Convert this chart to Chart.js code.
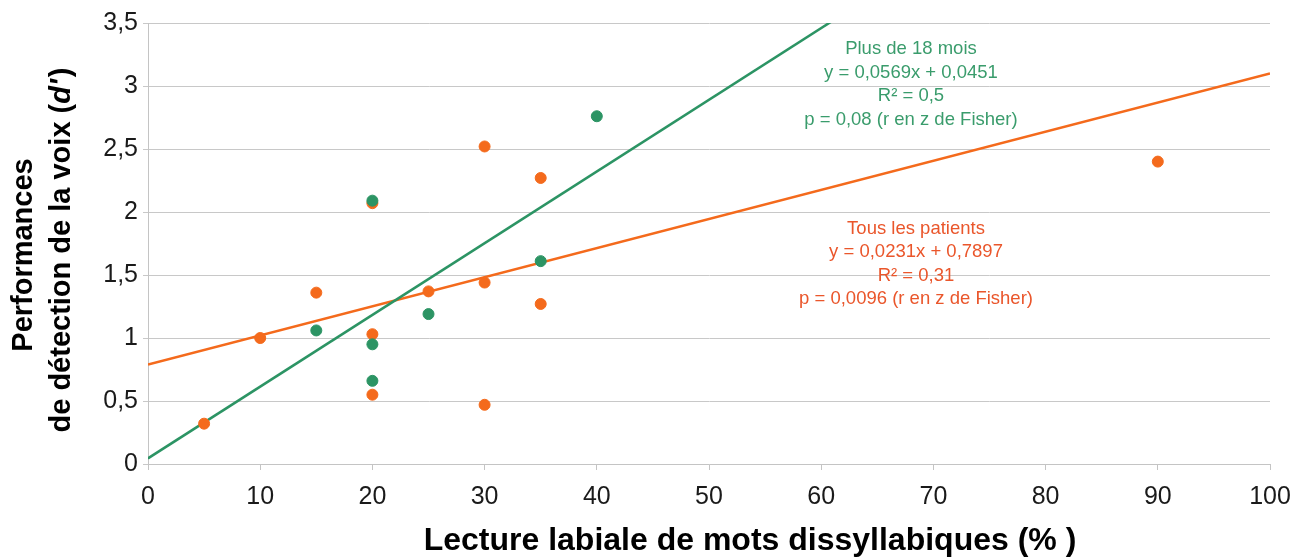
<!DOCTYPE html>
<html>
<head>
<meta charset="utf-8">
<script src="https://cdn.jsdelivr.net/npm/chart.js@4/dist/chart.umd.min.js"></script>
<style>
  html, body { margin: 0; padding: 0; background: #fff; }
  #wrap { width: 1315px; height: 560px; position: relative; }
</style>
</head>
<body>
<div id="wrap"><canvas id="chart"></canvas></div>
<script>
// Tous les patients
const allX = [5, 10, 15, 20, 20, 20, 25, 30, 30, 30, 35, 35, 90];
const allY = [0.32, 1.0, 1.36, 2.07, 1.03, 0.55, 1.37, 2.52, 1.44, 0.47, 2.27, 1.27, 2.4];
// Plus de 18 mois
const olderX = [15, 20, 20, 20, 25, 35, 40];
const olderY = [1.06, 2.09, 0.95, 0.66, 1.19, 1.61, 2.76];
// trend line end points
const allTrendX = [0, 100];
const allTrendY = [0.79, 3.1];
const olderTrendX = [0, 61.5];
const olderTrendY = [0.045, 3.545];

const allNotes = ["Tous les patients", "y = 0,0231x + 0,7897", "R\u00b2 = 0,31", "p = 0,0096 (r en z de Fisher)"];
const olderNotes = ["Plus de 18 mois", "y = 0,0569x + 0,0451", "R\u00b2 = 0,5", "p = 0,08 (r en z de Fisher)"];

const orange = "#f46a1c";
const green = "#2c9464";
const font = "'Liberation Sans', Arial, sans-serif";

const toPoints = (xs, ys) => xs.map((x, i) => ({ x, y: ys[i] }));
const comma = (v) => String(v).replace(".", ",");

const textPlugin = {
  id: "labels",
  afterDraw(chart) {
    const { ctx, scales } = chart;
    const x = scales.x;
    ctx.save();
    ctx.textAlign = "center";
    ctx.textBaseline = "middle";

    ctx.font = "18.5px " + font;
    ctx.fillStyle = "#3a9c6c";
    olderNotes.forEach((line, i) => ctx.fillText(line, x.getPixelForValue(68.0), 49 + i * 23.7));
    ctx.fillStyle = "#ea562b";
    allNotes.forEach((line, i) => ctx.fillText(line, x.getPixelForValue(68.45), 229 + i * 23.4));

    // x title
    ctx.fillStyle = "#000";
    ctx.font = "bold 32px " + font;
    ctx.fillText("Lecture labiale de mots dissyllabiques (% )", 750, 541);

    // y title, two lines, with italic d'
    ctx.font = "bold 29px " + font;
    ctx.save();
    ctx.translate(24, 255);
    ctx.rotate(-Math.PI / 2);
    ctx.fillText("Performances", 0, 0);
    ctx.restore();

    ctx.save();
    ctx.translate(62, 251);
    ctx.rotate(-Math.PI / 2);
    const partA = "de d\u00e9tection de la voix (";
    const partB = "d'";
    const partC = ")";
    ctx.font = "bold 29px " + font;
    const wA = ctx.measureText(partA).width;
    const wC = ctx.measureText(partC).width;
    ctx.font = "italic bold 29px " + font;
    const wB = ctx.measureText(partB).width;
    const start = -(wA + wB + wC) / 2;
    ctx.textAlign = "left";
    ctx.font = "bold 29px " + font;
    ctx.fillText(partA, start, 0);
    ctx.font = "italic bold 29px " + font;
    ctx.fillText(partB, start + wA, 0);
    ctx.font = "bold 29px " + font;
    ctx.fillText(partC, start + wA + wB + 2, 0);
    ctx.restore();

    ctx.restore();
  }
};

new Chart(document.getElementById("chart"), {
  type: "scatter",
  data: {
    datasets: [
      {
        label: "Tous les patients",
        data: toPoints(allX, allY),
        backgroundColor: orange,
        borderColor: orange,
        pointRadius: 5.5,
        pointHoverRadius: 5.5,
        order: 1
      },
      {
        label: "Plus de 18 mois",
        data: toPoints(olderX, olderY),
        backgroundColor: green,
        borderColor: green,
        pointRadius: 5.5,
        pointHoverRadius: 5.5,
        order: 0
      },
      {
        label: "Tendance tous",
        data: toPoints(allTrendX, allTrendY),
        showLine: true,
        borderColor: orange,
        borderWidth: 2.5,
        pointRadius: 0,
        order: 3
      },
      {
        label: "Tendance 18 mois",
        data: toPoints(olderTrendX, olderTrendY),
        showLine: true,
        borderColor: green,
        borderWidth: 2.5,
        pointRadius: 0,
        order: 2
      }
    ]
  },
  options: {
    responsive: true,
    maintainAspectRatio: false,
    animation: false,
    layout: {
      padding: { top: 23, right: 45, left: 0, bottom: 0 }
    },
    plugins: {
      legend: { display: false },
      tooltip: { enabled: false }
    },
    scales: {
      x: {
        type: "linear",
        min: 0,
        max: 100,
        ticks: {
          stepSize: 10,
          color: "#1a1a1a",
          padding: 12,
          maxRotation: 0,
          font: { family: font, size: 25 }
        },
        grid: {
          drawOnChartArea: false,
          drawTicks: true,
          tickLength: 6,
          color: "#c4c4c4"
        },
        border: { color: "#c4c4c4" },
        afterFit(scale) { scale.height = 96; }
      },
      y: {
        min: 0,
        max: 3.5,
        ticks: {
          stepSize: 0.5,
          color: "#1a1a1a",
          padding: 5,
          font: { family: font, size: 25 },
          callback: (v) => comma(v)
        },
        grid: {
          color: "#c8c8c8",
          tickLength: 5
        },
        border: { color: "#c4c4c4" },
        afterFit(scale) { scale.width = 148; }
      }
    }
  },
  plugins: [textPlugin]
});
</script>
</body>
</html>
